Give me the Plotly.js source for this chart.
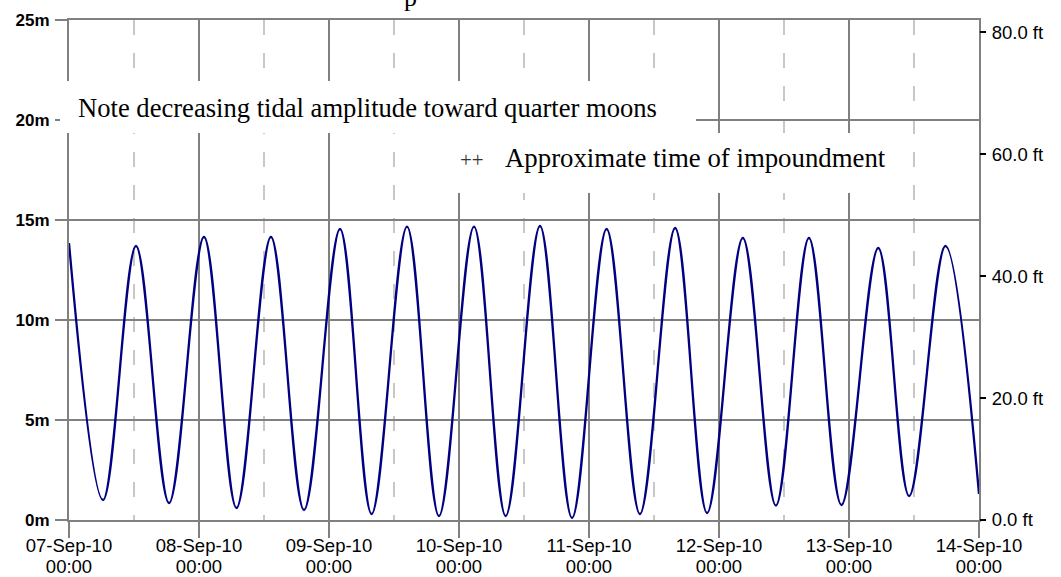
<!DOCTYPE html>
<html><head><meta charset="utf-8">
<script src="https://cdn.plot.ly/plotly-3.0.1.min.js"></script>
<style>html,body{margin:0;padding:0;background:#fff}#chart{width:1061px;height:577px}</style>
</head><body><div id="chart"></div>
<script>
// Tide height (m) at each high / low water
const tideTimes = ['2010-09-07 00:00','2010-09-07 06:17','2010-09-07 12:22','2010-09-07 18:28',
  '2010-09-08 00:55','2010-09-08 06:55','2010-09-08 13:17','2010-09-08 19:23',
  '2010-09-09 02:02','2010-09-09 07:52','2010-09-09 14:24','2010-09-09 20:18',
  '2010-09-10 02:46','2010-09-10 08:37','2010-09-10 14:57','2010-09-10 20:52',
  '2010-09-11 03:15','2010-09-11 09:24','2010-09-11 15:54','2010-09-11 21:48',
  '2010-09-12 04:24','2010-09-12 10:30','2010-09-12 16:36','2010-09-12 22:36',
  '2010-09-13 05:24','2010-09-13 11:06','2010-09-13 17:48','2010-09-14 00:00'];
const tideHeights = [13.85,1.0,13.7,0.85,
  14.15,0.6,14.15,0.5,
  14.55,0.3,14.67,0.2,
  14.67,0.2,14.7,0.1,
  14.55,0.3,14.6,0.35,
  14.1,0.72,14.1,0.75,
  13.6,1.2,13.7,1.3];

const dayTicks = ['2010-09-07','2010-09-08','2010-09-09','2010-09-10','2010-09-11','2010-09-12','2010-09-13','2010-09-14'];
const dayLabels = ['07-Sep-10','08-Sep-10','09-Sep-10','10-Sep-10','11-Sep-10','12-Sep-10','13-Sep-10','14-Sep-10'];
const timeLabels = ['00:00','00:00','00:00','00:00','00:00','00:00','00:00','00:00'];
const meterTicks = [0,5,10,15,20,25];
const meterLabels = ['0m','5m','10m','15m','20m','25m'];
const feetTicks = [0,20,40,60,80];
const feetLabels = ['0.0 ft','20.0 ft','40.0 ft','60.0 ft','80.0 ft'];
const noteText = 'Note decreasing tidal amplitude toward quarter moons';
const legendText = 'Approximate time of impoundment';
const legendSymbol = '++';
const titleGlyph = 'p';

const M_PER_FT = 0.3048;
const xRange = ['2010-09-07 00:00','2010-09-14 00:00'];
const labelFont = {family:'Liberation Sans, Arial, sans-serif', size:18.5, color:'#000'};
const serif = 'Liberation Serif, Times New Roman, serif';
const grid = '#808080';

const traces = [
  {x: tideTimes, y: tideHeights, type:'scatter', mode:'lines',
   line:{color:'#000080', width:2.3, shape:'spline', smoothing:1},
   hoverinfo:'skip', showlegend:false},
  // empty carriers so the second x axis (time row) and the feet axis are drawn
  {x:[], y:[], type:'scatter', mode:'lines', xaxis:'x2', yaxis:'y', hoverinfo:'skip', showlegend:false},
  {x:[], y:[], type:'scatter', mode:'lines', xaxis:'x', yaxis:'y2', hoverinfo:'skip', showlegend:false}
];

const layout = {
  width:1061, height:577,
  margin:{l:69, r:82, t:20, b:57, pad:0},
  paper_bgcolor:'#fff', plot_bgcolor:'#fff',
  showlegend:false,
  xaxis:{
    type:'date', range:xRange, fixedrange:true,
    tickmode:'array', tickvals:dayTicks, ticktext:dayLabels,
    showgrid:true, gridcolor:grid, gridwidth:2,
    ticks:'outside', ticklen:16, tickwidth:2, tickcolor:grid,
    showline:true, linecolor:grid, linewidth:2, mirror:true,
    zeroline:false, tickfont:labelFont, ticklabelstandoff:-8,
    minor:{dtick:86400000, tick0:'2010-09-07 12:00', showgrid:true,
           gridcolor:'#c8c8c8', gridwidth:2, griddash:'15px,18px', ticks:''}
  },
  xaxis2:{
    type:'date', range:xRange, overlaying:'x', anchor:'y', side:'bottom', fixedrange:true,
    tickmode:'array', tickvals:dayTicks, ticktext:timeLabels,
    showgrid:false, ticks:'', showline:false, zeroline:false,
    tickfont:labelFont, ticklabelstandoff:33
  },
  yaxis:{
    range:[0,25], fixedrange:true,
    tickmode:'array', tickvals:meterTicks, ticktext:meterLabels,
    showgrid:true, gridcolor:grid, gridwidth:2,
    ticks:'outside', ticklen:12, tickwidth:2, tickcolor:grid,
    showline:true, linecolor:grid, linewidth:2, mirror:true,
    zeroline:false, ticklabelstandoff:2,
    tickfont:{family:'Liberation Sans, Arial, sans-serif', size:17, color:'#000', weight:'bold'}
  },
  yaxis2:{
    range:[0, 25/M_PER_FT], overlaying:'y', anchor:'x', side:'right', fixedrange:true,
    tickmode:'array', tickvals:feetTicks, ticktext:feetLabels,
    showgrid:false, zeroline:false, showline:false,
    ticks:'outside', ticklen:6, tickwidth:2, tickcolor:'#000',
    ticklabelstandoff:2,
    tickfont:{family:'Liberation Sans, Arial, sans-serif', size:18.5, color:'#000'}
  },
  shapes:[
    {type:'rect', xref:'paper', yref:'paper', x0:-0.0099, x1:0.689, y0:0.774, y1:0.878,
     fillcolor:'#fff', line:{width:0}, layer:'above'},
    {type:'rect', xref:'paper', yref:'paper', x0:0.414, x1:0.913, y0:0.654, y1:0.774,
     fillcolor:'#fff', line:{width:0}, layer:'above'}
  ],
  annotations:[
    {text:noteText, xref:'paper', yref:'paper', x:0.0077, y:0.824, xanchor:'left', yanchor:'middle',
     showarrow:false, font:{family:serif, size:26.6, color:'#000'}},
    {text:legendText, xref:'paper', yref:'paper', x:0.4770, y:0.724, xanchor:'left', yanchor:'middle',
     showarrow:false, font:{family:serif, size:26.8, color:'#000'}},
    {text:legendSymbol, xref:'paper', yref:'paper', x:0.4275, y:0.720, xanchor:'left', yanchor:'middle',
     showarrow:false, font:{family:serif, size:21, color:'#333'}},
    {text:titleGlyph, xref:'paper', yref:'paper', x:0.375, y:1.044, xanchor:'center', yanchor:'middle',
     showarrow:false, font:{family:serif, size:26, color:'#000'}}
  ]
};

Plotly.newPlot('chart', traces, layout, {staticPlot:true, displayModeBar:false});
</script>
</body></html>
